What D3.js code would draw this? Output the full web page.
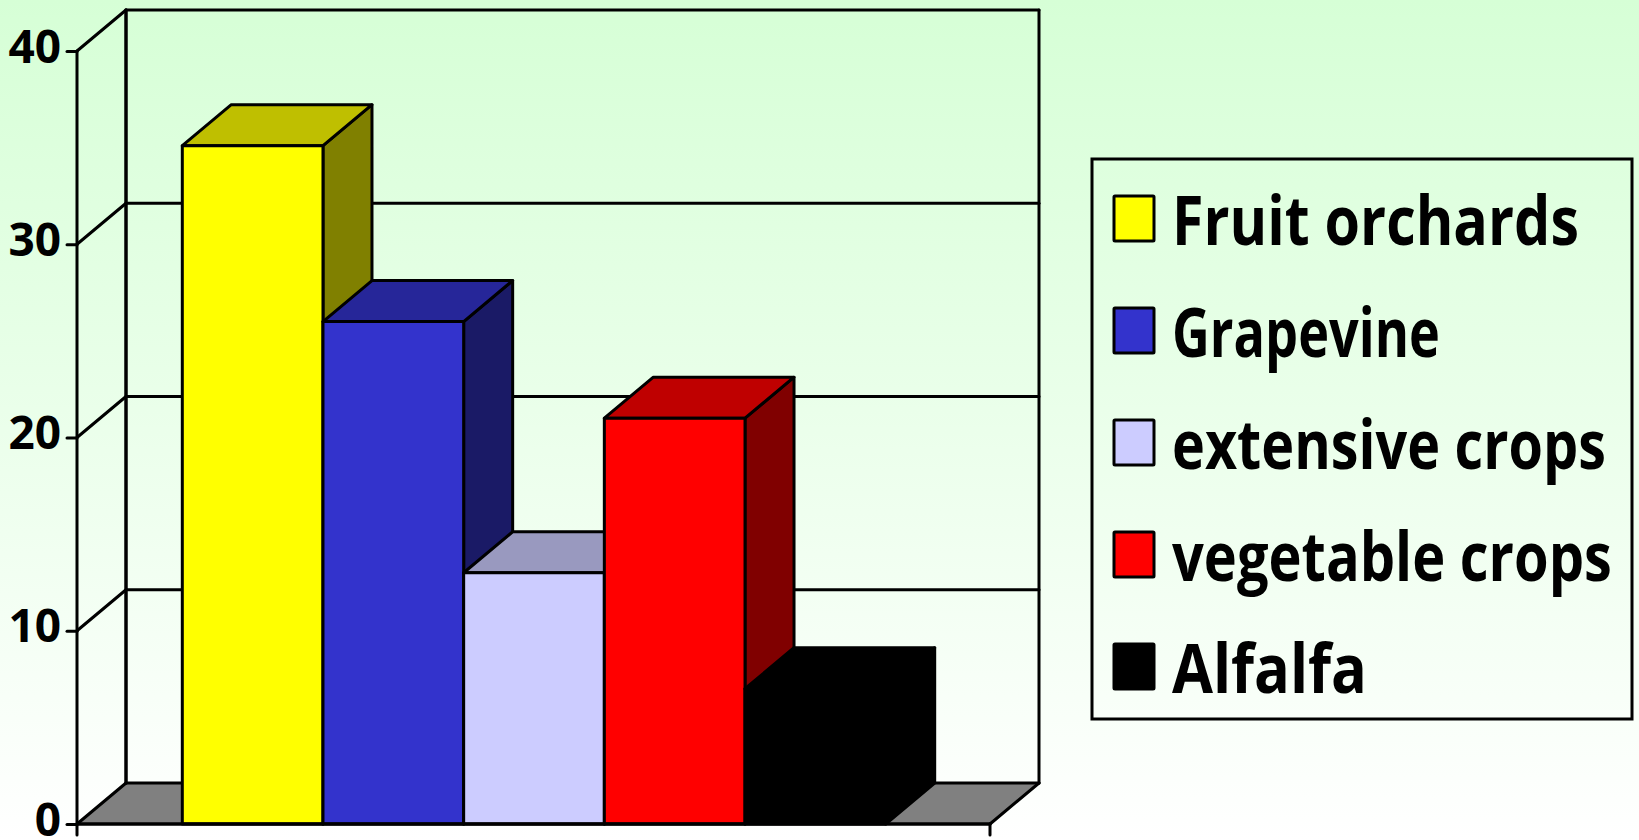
<!DOCTYPE html>
<html>
<head>
<meta charset="utf-8">
<script src="https://cdn.jsdelivr.net/npm/d3@7/dist/d3.min.js"></script>
<style>
html,body{margin:0;padding:0;background:#fff;overflow:hidden}
svg{display:block}
text{font-family:"Open Sans","Lato",sans-serif;font-weight:700;fill:#000}
</style>
</head>
<body>
<svg id="chart" width="1639" height="840"></svg>
<script>
const categories = ["Fruit orchards", "Grapevine", "extensive crops", "vegetable crops", "Alfalfa"];
const values = [35.1, 26, 13, 21, 7];
const colors = ["#ffff00", "#3333cc", "#ccccff", "#ff0000", "#000000"];
const yTicks = [0, 10, 20, 30, 40];
const labelLengths = [407, 268, 434, 440, 195];

const W = 1639, H = 840;
const svg = d3.select("#chart");
const depthX = 49, depthY = -41;
const left = 77, right = 990, base = 824, top40 = 51;

const grad = svg.append("defs").append("linearGradient")
  .attr("id", "bg").attr("x1", 0).attr("y1", 0).attr("x2", 0).attr("y2", 1);
grad.append("stop").attr("offset", "0%").attr("stop-color", "#d6ffd6");
grad.append("stop").attr("offset", "100%").attr("stop-color", "#ffffff");
svg.append("rect").attr("width", W).attr("height", H).attr("fill", "url(#bg)");

const y = d3.scaleLinear().domain([0, 40]).range([base, top40]);
const x = d3.scaleBand().domain(categories).range([left + 0.5, right + 0.5]).paddingInner(0).paddingOuter(0.745);

const poly = pts => pts.map(p => p.join(",")).join(" ");
const line = (g, x1, y1, x2, y2, w = 3) => g.append("line")
  .attr("x1", x1).attr("y1", y1).attr("x2", x2).attr("y2", y2)
  .attr("stroke", "#000").attr("stroke-width", w).attr("stroke-linecap", "round");

// floor
const wall = svg.append("g");
wall.append("polygon")
  .attr("points", poly([[left, base], [right, base], [right + depthX, base + depthY], [left + depthX, base + depthY]]))
  .attr("fill", "#808080");

// back wall frame and gridlines
yTicks.forEach(t => {
  const yy = y(t);
  line(wall, left, yy, left + depthX, yy + depthY);
  line(wall, left + depthX, yy + depthY, right + depthX, yy + depthY);
});
line(wall, left + depthX, y(40) + depthY, left + depthX, base + depthY, 3.5);
line(wall, right + depthX, y(40) + depthY, right + depthX, base + depthY);
line(wall, right, base, right + depthX, base + depthY);

// bars, painted left to right so each one overlaps its neighbour's side
const bars = svg.append("g").selectAll("g").data(categories).join("g")
  .attr("stroke", "#000").attr("stroke-width", 3).attr("stroke-linejoin", "round");
bars.each(function (c, i) {
  const g = d3.select(this);
  const x0 = x(c), x1 = x0 + x.bandwidth(), yT = y(values[i]), yB = y(0);
  const col = d3.rgb(colors[i]);
  const shade = k => d3.rgb(col.r * k, col.g * k, col.b * k).formatHex();
  g.append("polygon").attr("fill", shade(0.5))
    .attr("points", poly([[x1, yB], [x1 + depthX, yB + depthY], [x1 + depthX, yT + depthY], [x1, yT]]));
  g.append("polygon").attr("fill", shade(0.75))
    .attr("points", poly([[x0, yT], [x1, yT], [x1 + depthX, yT + depthY], [x0 + depthX, yT + depthY]]));
  g.append("rect").attr("fill", shade(1))
    .attr("x", x0).attr("y", yT).attr("width", x1 - x0).attr("height", yB - yT);
});

// axes
const axisG = svg.append("g").attr("transform", `translate(${left},0)`)
  .call(d3.axisLeft(y).tickValues(yTicks).tickSize(10).tickPadding(6));
axisG.select(".domain").remove();
axisG.selectAll("line").attr("stroke", "#000").attr("stroke-width", 3).attr("stroke-linecap", "round");
axisG.selectAll("text").attr("font-size", 46).attr("dy", "0.24em")
  .style("font-family", '"Open Sans","Lato",sans-serif').style("font-weight", 700);
const frame = svg.append("g");
line(frame, left, y(40), left, 835);
line(frame, left, base, right, base, 3.5);
line(frame, right, base, right, 835);

// legend
const legend = svg.append("g");
legend.append("rect").attr("x", 1092).attr("y", 159).attr("width", 540).attr("height", 560)
  .attr("fill", "none").attr("stroke", "#000").attr("stroke-width", 3);
const item = legend.selectAll("g").data(categories).join("g")
  .attr("transform", (d, i) => `translate(0,${i * 112})`);
item.append("rect").attr("x", 1114).attr("y", 196).attr("width", 40).attr("height", 45).attr("rx", 1)
  .attr("fill", (d, i) => colors[i]).attr("stroke", "#000").attr("stroke-width", 3);
item.append("text").attr("font-size", 68).text(d => d)
  .each(function (d, i) {
    const sx = labelLengths[i] / this.getComputedTextLength();
    d3.select(this).attr("transform", `translate(1172,245) scale(${sx},1)`);
  });
</script>
</body>
</html>
